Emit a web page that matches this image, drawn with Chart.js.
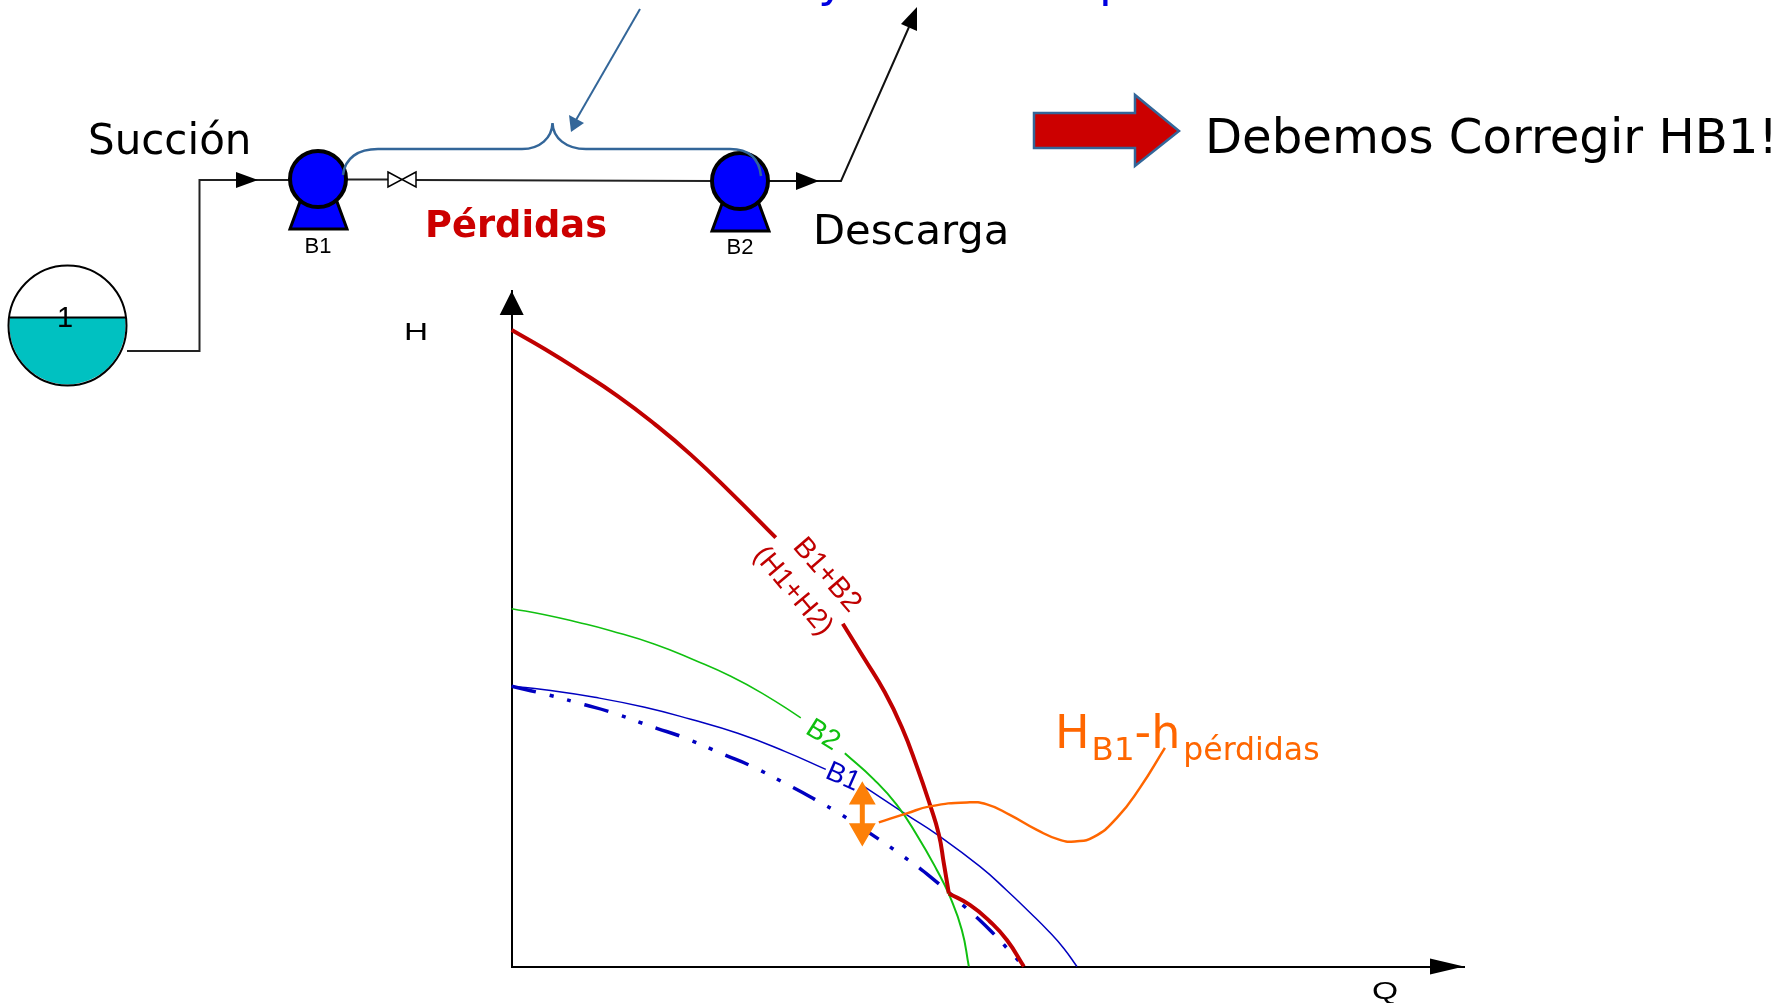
<!DOCTYPE html>
<html>
<head>
<meta charset="utf-8">
<title>Bombas en serie</title>
<style>
  html, body { margin: 0; padding: 0; background: #fff; }
  canvas { display: block; }
</style>
<script src="https://cdn.jsdelivr.net/npm/chart.js@4/dist/chart.umd.min.js"></script>
</head>
<body>
<canvas id="myChart" width="1791" height="1003"></canvas>
<script>
// Curve values (Q, H)
const qB1B2Upper = [0, 3.3, 6.6, 10.6, 14.3, 17.9, 21.9, 26.4];
const hB1B2Upper = [63.6, 61.7, 59.65, 57.0, 54.2, 51.15, 47.35, 42.85];
const qB1B2Mid = [33.1, 35.2, 37.3, 39.0, 40.5, 41.8, 42.7, 43.2, 43.7];
const hB1B2Mid = [34.25, 30.85, 27.4, 23.9, 20.0, 16.2, 13.2, 10.3, 7.3];
const qB1B2Lower = [43.7, 45.8, 47.8, 49.5, 51.2];
const hB1B2Lower = [7.3, 6.15, 4.5, 2.65, 0];

const qB2Upper = [0, 3.3, 6.6, 9.9, 14.3, 18.3, 21.9, 25.3, 28.9];
const hB2Upper = [35.75, 35.15, 34.4, 33.55, 32.2, 30.6, 29.0, 27.15, 24.85];
const qB2Lower = [33.3, 36.2, 38.5, 40.5, 42.5, 43.8, 45.0, 45.7];
const hB2Lower = [21.3, 18.7, 16.15, 13.15, 9.65, 7.0, 3.65, 0];

const qB1Upper = [0, 3.3, 8.3, 13.3, 17.9, 22.6, 27.3, 31.4];
const hB1Upper = [28.0, 27.65, 26.9, 25.9, 24.7, 23.3, 21.5, 19.7];
const qB1Lower = [35.2, 39.5, 42.5, 46.8, 49.5, 51.8, 53.7, 55.2, 56.5];
const hB1Lower = [18.0, 15.15, 13.2, 10.0, 7.6, 5.4, 3.5, 1.8, 0];

const qB1Corrected = [0, 3.8, 7.3, 9.8, 14.5, 16.9, 21.4, 23.8, 28.1, 30.3, 33.0, 36.2, 38.8, 41.8, 45.2, 47.8, 50.0, 51.2];
const hB1Corrected = [28.0, 27.1, 26.15, 25.45, 23.8, 23.0, 21.1, 20.1, 17.9, 16.7, 15.15, 13.05, 11.25, 9.0, 6.05, 3.65, 1.3, 0];

const qLeader = [36.7, 39.5, 41.8, 45.5, 47.5, 49.8, 52.5, 54.8, 56.3, 58.2, 60.5, 62.8, 65.3];
const hLeader = [14.4, 15.3, 16.0, 16.4, 16.2, 15.15, 13.65, 12.65, 12.5, 12.95, 14.85, 17.85, 21.85];

const qGap = [35.05, 35.05];
const hGap = [16.95, 13.55];

const RED = "#c00000";
const GREEN = "#10c010";
const BLUE = "#0000c0";
const ORANGE = "#ff6600";
const FONT = '"DejaVu Sans"';
const SMALL_FONT = '"Liberation Sans"';

function points(q, h) {
  return q.map(function (v, i) {
    return { x: v, y: h[i] };
  });
}

function curve(q, h, color, width, extra) {
  return Object.assign(
    {
      data: points(q, h),
      showLine: true,
      borderColor: color,
      backgroundColor: color,
      borderWidth: width,
      pointRadius: 0,
      tension: 0.5,
      clip: false,
    },
    extra
  );
}

function polygon(ctx, pts, fill, stroke, lineWidth) {
  ctx.beginPath();
  pts.forEach(function (p, i) {
    if (i === 0) ctx.moveTo(p[0], p[1]);
    else ctx.lineTo(p[0], p[1]);
  });
  ctx.closePath();
  if (fill) {
    ctx.fillStyle = fill;
    ctx.fill();
  }
  if (stroke) {
    ctx.strokeStyle = stroke;
    ctx.lineWidth = lineWidth;
    ctx.lineJoin = "miter";
    ctx.stroke();
  }
}

function line(ctx, pts, color, width) {
  ctx.beginPath();
  pts.forEach(function (p, i) {
    if (i === 0) ctx.moveTo(p[0], p[1]);
    else ctx.lineTo(p[0], p[1]);
  });
  ctx.strokeStyle = color;
  ctx.lineWidth = width;
  ctx.lineJoin = "miter";
  ctx.stroke();
}

function text(ctx, str, x, y, font, color) {
  ctx.font = font;
  ctx.fillStyle = color;
  ctx.textAlign = "left";
  ctx.textBaseline = "alphabetic";
  ctx.fillText(str, x, y);
  return x + ctx.measureText(str).width;
}

function rotated(ctx, str, x, y, deg, font, color) {
  ctx.save();
  ctx.translate(x, y);
  ctx.rotate((deg * Math.PI) / 180);
  ctx.font = font;
  ctx.fillStyle = color;
  ctx.textAlign = "center";
  ctx.textBaseline = "middle";
  ctx.fillText(str, 0, 0);
  ctx.restore();
}

function wide(ctx, str, x, y, stretch, font) {
  ctx.save();
  ctx.translate(x, y);
  ctx.scale(stretch, 1);
  ctx.font = font;
  ctx.fillStyle = "#000";
  ctx.textAlign = "center";
  ctx.textBaseline = "alphabetic";
  ctx.fillText(str, 0, 0);
  ctx.restore();
}

function pump(ctx, cx, cy, name, labelY) {
  polygon(ctx, [[cx - 17, cy + 20], [cx + 18, cy + 20], [cx + 29, cy + 50], [cx - 28, cy + 50]], "#0000ff", "#000", 3);
  ctx.beginPath();
  ctx.arc(cx, cy, 28, 0, Math.PI * 2);
  ctx.fillStyle = "#0000ff";
  ctx.fill();
  ctx.strokeStyle = "#000";
  ctx.lineWidth = 4;
  ctx.stroke();
  ctx.font = "22px " + SMALL_FONT;
  ctx.fillStyle = "#000";
  ctx.textAlign = "center";
  ctx.textBaseline = "alphabetic";
  ctx.fillText(name, cx, labelY);
}

const diagram = {
  id: "diagram",
  afterDraw: function (chart) {
    const ctx = chart.ctx;
    const area = chart.chartArea;
    const xs = chart.scales.x;
    const ys = chart.scales.y;
    ctx.save();

    // axis arrow heads and names
    polygon(ctx, [[area.right, area.bottom], [area.right - 34, area.bottom - 8], [area.right - 34, area.bottom + 8]], "#000");
    polygon(ctx, [[area.left, area.top], [area.left - 12, area.top + 24], [area.left + 12, area.top + 24]], "#000");
    wide(ctx, "H", 416, 340, 1.45, "23px " + SMALL_FONT);
    wide(ctx, "Q", 1385, 999, 1.4, "24px " + SMALL_FONT);

    // labels on the curves
    rotated(ctx, "B1+B2", xs.getPixelForValue(31.5), ys.getPixelForValue(39.1), 49, "29px " + SMALL_FONT, RED);
    rotated(ctx, "(H1+H2)", xs.getPixelForValue(28.1), ys.getPixelForValue(37.5), 50, "28px " + SMALL_FONT, RED);
    rotated(ctx, "B2", xs.getPixelForValue(31.1), ys.getPixelForValue(23.1), 32, "28px " + SMALL_FONT, GREEN);
    rotated(ctx, "B1", xs.getPixelForValue(33.1), ys.getPixelForValue(18.9), 24, "28px " + SMALL_FONT, BLUE);

    // H_B1 - h_perdidas
    let px = text(ctx, "H", 1055, 748, "46px " + FONT, ORANGE);
    px = text(ctx, "B1", px + 2, 760, "32.5px " + FONT, ORANGE);
    px = text(ctx, "-h", px, 748, "46px " + FONT, ORANGE);
    text(ctx, "pérdidas", px + 3, 760, "31.5px " + FONT, ORANGE);

    // title cut off at the top of the slide
    text(ctx, "y", 818, -4, "47px " + FONT, "#0000e0");
    text(ctx, "p", 1099, -4, "47px " + FONT, "#0000e0");

    // pipes
    line(ctx, [[127, 351], [199.5, 351], [199.5, 180], [290, 180]], "#222", 2);
    line(ctx, [[346, 179.5], [388, 179.5]], "#222", 2);
    line(ctx, [[416, 180], [711, 181]], "#222", 2);
    line(ctx, [[768, 181], [841, 181], [909, 27]], "#111", 2);
    polygon(ctx, [[258, 180], [236, 172], [236, 188]], "#000");
    polygon(ctx, [[819, 181], [796, 172], [796, 190]], "#000");
    polygon(ctx, [[917, 7], [901, 24], [917, 31]], "#000");

    // valve
    polygon(ctx, [[388, 172], [402, 179.5], [388, 187]], "#fff", "#000", 1.5);
    polygon(ctx, [[416, 172], [402, 179.5], [416, 187]], "#fff", "#000", 1.5);

    // tank
    ctx.beginPath();
    ctx.moveTo(10, 317.5);
    ctx.lineTo(125, 317.5);
    ctx.ellipse(67.5, 325.5, 58, 59, 0, -0.13, Math.PI + 0.13);
    ctx.closePath();
    ctx.fillStyle = "#00c1c1";
    ctx.fill();
    ctx.beginPath();
    ctx.ellipse(67.5, 325.5, 59, 60, 0, 0, Math.PI * 2);
    ctx.strokeStyle = "#000";
    ctx.lineWidth = 2;
    ctx.stroke();
    line(ctx, [[10, 317.5], [126, 317.5]], "#000", 2);
    ctx.font = "29px " + SMALL_FONT;
    ctx.fillStyle = "#000";
    ctx.textAlign = "center";
    ctx.textBaseline = "alphabetic";
    ctx.fillText("1", 65, 327);

    pump(ctx, 318, 179, "B1", 253);
    pump(ctx, 740, 181, "B2", 254);

    // brace over the pipe between the pumps
    ctx.beginPath();
    ctx.moveTo(343, 175);
    ctx.bezierCurveTo(345, 158, 358, 149, 378, 149);
    ctx.lineTo(522, 149);
    ctx.bezierCurveTo(540, 149, 552, 138, 552.5, 123);
    ctx.bezierCurveTo(553, 138, 566, 149, 586, 149);
    ctx.lineTo(730, 149);
    ctx.bezierCurveTo(748, 149, 759, 158, 761, 176);
    ctx.strokeStyle = "#336699";
    ctx.lineWidth = 2.5;
    ctx.stroke();
    line(ctx, [[640, 9], [576, 120]], "#336699", 2);
    polygon(ctx, [[571, 132], [569, 115], [584, 123]], "#336699");

    // text of the diagram
    text(ctx, "Succión", 88, 154, "42px " + FONT, "#000");
    text(ctx, "Descarga", 813, 244, "41.7px " + FONT, "#000");
    text(ctx, "Pérdidas", 425, 237, "bold 36.8px " + FONT, "#cc0000");
    text(ctx, "Debemos Corregir HB1!", 1205, 152.5, "48.2px " + FONT, "#000");

    // red arrow
    polygon(ctx, [[1034, 113], [1135, 113], [1135, 95], [1179, 131], [1135, 166], [1135, 148], [1034, 148]], "#cc0000", "#336699", 2.5);

    ctx.restore();
  },
};

document.addEventListener("DOMContentLoaded", function () {
  const ctx = document.getElementById("myChart").getContext("2d");
  new Chart(ctx, {
    type: "scatter",
    data: {
      datasets: [
        curve(qGap, hGap, "#fd8008", 5, {
          pointRadius: 10.5,
          pointStyle: "triangle",
          pointRotation: [0, 180],
          tension: 0,
        }),
        curve(qLeader, hLeader, ORANGE, 2.5),
        curve(qB1B2Upper, hB1B2Upper, RED, 4),
        curve(qB1B2Mid, hB1B2Mid, RED, 4),
        curve(qB1B2Lower, hB1B2Lower, RED, 4),
        curve(qB2Upper, hB2Upper, GREEN, 1.5),
        curve(qB2Lower, hB2Lower, GREEN, 2),
        curve(qB1Upper, hB1Upper, BLUE, 1.5),
        curve(qB1Lower, hB1Lower, BLUE, 1.5),
        curve(qB1Corrected, hB1Corrected, BLUE, 3.5, {
          borderDash: [25, 14, 4, 14, 4, 14],
        }),
      ],
    },
    options: {
      responsive: false,
      animation: false,
      events: [],
      layout: {
        padding: { left: 511.7, right: 327, top: 291, bottom: 36.5 },
      },
      plugins: {
        legend: { display: false },
        tooltip: { enabled: false },
      },
      scales: {
        x: {
          type: "linear",
          min: 0,
          max: 95.2,
          grid: { display: false },
          ticks: { display: false },
          border: { display: true, color: "#000", width: 2 },
          afterFit: function (scale) {
            scale.height = 0;
          },
        },
        y: {
          type: "linear",
          min: 0,
          max: 67.5,
          grid: { display: false },
          ticks: { display: false },
          border: { display: true, color: "#000", width: 2 },
          afterFit: function (scale) {
            scale.width = 0;
          },
        },
      },
    },
    plugins: [diagram],
  });
});
</script>
</body>
</html>
